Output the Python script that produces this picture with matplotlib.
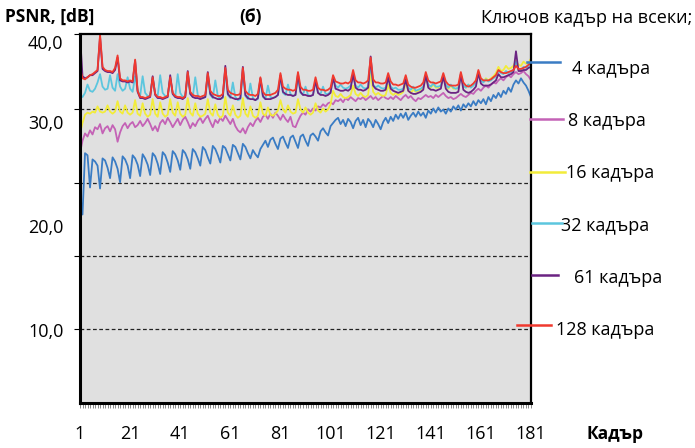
import matplotlib
matplotlib.use("Agg")
import matplotlib.pyplot as plt
from matplotlib.lines import Line2D
from matplotlib.ticker import FixedLocator, FuncFormatter
from matplotlib.transforms import offset_copy

plt.rcParams['font.family'] = ['Open Sans', 'DejaVu Sans']

# PSNR per frame (dB) for each key-frame interval
psnr_4 = [
    23.2, 21.1, 27.0, 26.8, 23.7, 26.4, 26.2, 25.8, 23.6, 26.5,
    26.3, 25.6, 24.6, 26.6, 26.2, 25.5, 24.2, 26.7, 26.4, 25.8,
    24.6, 26.8, 26.5, 25.9, 24.8, 26.9, 26.5, 25.9, 24.9, 27.0,
    26.7, 26.0, 25.0, 27.1, 26.8, 26.1, 25.2, 27.2, 26.9, 26.3,
    25.4, 27.3, 27.0, 26.4, 25.5, 27.4, 27.1, 26.5, 25.8, 27.6,
    27.3, 26.6, 26.0, 27.7, 27.4, 26.8, 26.1, 27.7, 27.5, 26.9,
    26.3, 27.8, 27.6, 27.0, 26.4, 27.9, 27.6, 27.0, 26.5, 27.3,
    26.9, 26.6, 27.4, 27.8, 28.2, 27.6, 28.3, 28.5, 27.9, 27.4,
    28.4, 28.6, 28.0, 27.5, 28.5, 28.7, 28.1, 27.5, 28.6, 28.8,
    28.2, 27.7, 28.7, 28.9, 28.6, 28.2, 29.1, 29.4, 29.0, 28.7,
    29.6, 29.9, 30.2, 30.4, 29.8, 30.2, 29.6, 30.3, 30.0, 29.4,
    30.1, 30.4, 29.7, 30.2, 29.5, 30.3, 30.0, 29.5, 30.2, 29.8,
    29.3, 30.0, 30.4, 29.9, 30.5, 30.1, 30.7, 30.3, 30.8, 30.4,
    30.9, 30.2, 30.6, 30.9, 30.5, 31.0, 30.6, 30.9, 30.4, 31.1,
    30.8, 31.3, 30.9, 31.4, 31.0, 31.2, 30.8, 31.3, 31.0, 31.5,
    31.2, 31.6, 31.1, 31.7, 31.4, 31.8, 31.5, 32.0, 31.6, 32.1,
    31.8, 32.2, 31.7, 32.4, 32.0, 32.6, 32.3, 32.8, 32.4, 33.0,
    32.7, 33.3, 32.9, 33.6, 34.0, 33.7, 34.2, 33.8, 33.5, 33.0,
    32.4,
]

psnr_8 = [
    27.0, 28.2, 28.9, 28.6, 29.2, 28.8, 29.5, 29.3, 29.8, 28.9,
    29.4, 29.6, 29.1, 29.7, 29.3, 28.1, 29.0, 29.6, 29.9, 29.4,
    29.8, 30.0, 29.5, 29.7, 30.1, 29.6, 29.9, 30.3, 29.8, 29.2,
    29.6, 29.1, 29.9, 30.2, 29.8, 30.4, 30.0, 29.5, 29.9, 30.3,
    29.7, 30.2, 30.5, 30.0, 29.4, 29.9, 29.6, 30.1, 30.4, 29.9,
    30.3, 30.6, 30.0, 29.5, 30.2, 29.9, 30.4, 30.1, 30.6, 30.2,
    29.8, 30.3, 29.6, 29.2, 29.0, 29.4, 28.9, 29.5, 29.9, 29.6,
    30.1, 30.4, 30.0, 30.5, 30.7, 30.3, 30.8, 30.4, 30.9, 30.6,
    30.2, 30.7, 30.3, 30.0, 30.5, 29.6, 29.5, 30.1, 30.6, 30.9,
    30.7, 31.2, 31.0, 31.3, 31.1, 31.5, 31.4, 31.7, 31.5, 31.8,
    31.9, 31.7, 32.1, 32.0, 32.2, 31.9, 32.3, 32.1, 32.4, 32.2,
    32.0, 32.3, 32.2, 32.4, 32.1, 32.3, 32.5, 32.2, 32.4, 32.1,
    32.3, 32.5, 32.3, 32.2, 32.4, 32.2, 32.5, 32.3, 32.1, 32.4,
    32.6, 32.3, 32.5, 32.2, 32.0, 32.3, 32.2, 32.4, 32.6, 32.4,
    32.5, 32.3, 32.6, 32.4, 32.6, 32.8, 32.5, 32.3, 32.4, 32.2,
    32.3, 32.5, 32.7, 32.5, 32.4, 32.6, 32.8, 32.7, 33.0, 33.2,
    33.0, 33.3, 33.5, 33.3, 33.6, 33.8, 33.7, 34.0, 34.2, 34.0,
    34.3, 34.5, 34.3, 34.6, 34.8, 34.6, 34.7, 34.9, 34.6, 34.4,
    34.0,
]

psnr_16 = [
    28.9, 29.9, 30.7, 30.9, 30.8, 31.0, 30.9, 31.5, 31.0, 30.9,
    31.0, 31.6, 31.0, 30.8, 31.0, 32.0, 31.0, 30.8, 31.6, 30.9,
    30.7, 30.9, 32.1, 30.8, 30.6, 31.8, 30.8, 30.5, 30.7, 32.2,
    30.8, 30.5, 31.9, 30.8, 30.5, 30.7, 32.2, 30.9, 30.6, 31.9,
    30.8, 30.5, 30.7, 32.3, 30.9, 30.6, 31.8, 30.8, 30.5, 30.6,
    30.8, 32.2, 30.9, 30.6, 31.7, 30.7, 30.4, 30.6, 32.4, 30.9,
    30.6, 31.6, 30.7, 30.4, 30.6, 32.3, 30.8, 30.5, 31.5, 30.6,
    30.4, 30.6, 31.9, 30.8, 30.6, 31.4, 30.7, 30.6, 30.8, 31.1,
    32.1, 31.2, 30.9, 31.6, 31.0, 30.8, 30.9, 32.2, 31.2, 30.9,
    31.4, 30.9, 30.7, 30.9, 31.8, 31.1, 30.9, 31.3, 31.0, 31.2,
    31.7, 33.0, 32.5, 32.4, 32.7, 32.4, 32.3, 32.4, 32.6, 33.5,
    32.7, 32.5, 32.8, 32.5, 32.4, 32.6, 34.8, 32.9, 32.6, 32.8,
    32.6, 32.5, 32.6, 33.6, 32.8, 32.6, 32.8, 32.6, 32.7, 32.9,
    33.8, 33.0, 32.8, 33.1, 32.9, 33.0, 33.1, 33.3, 34.3, 33.5,
    33.3, 33.6, 33.3, 33.3, 33.5, 34.4, 33.5, 33.2, 33.5, 33.2,
    33.2, 33.3, 34.4, 33.5, 33.3, 33.6, 33.4, 33.6, 33.9, 34.8,
    34.1, 33.9, 34.2, 34.0, 34.2, 34.4, 34.7, 35.3, 34.9, 35.0,
    35.4, 35.1, 35.2, 35.4, 35.9, 35.5, 35.4, 35.8, 35.6, 35.7,
    36.1,
]

psnr_32 = [
    32.6, 32.4, 32.8, 33.6, 33.0, 32.9, 33.2, 33.8, 34.6, 33.4,
    33.1, 33.2, 34.5, 33.3, 33.0, 34.6, 33.4, 33.0, 33.2, 34.3,
    33.2, 32.9, 34.4, 33.0, 32.5, 34.4, 32.8, 32.5, 32.5, 34.3,
    32.7, 32.5, 34.5, 32.8, 32.5, 32.5, 34.2, 32.7, 32.4, 34.6,
    32.8, 32.4, 32.5, 34.4, 32.7, 32.4, 34.3, 32.6, 32.3, 32.3,
    32.4, 34.3, 32.6, 32.3, 34.0, 32.5, 32.2, 32.3, 34.8, 32.6,
    32.3, 33.8, 32.4, 32.1, 32.2, 34.7, 32.5, 32.2, 33.7, 32.3,
    32.1, 32.2, 34.0, 32.4, 32.2, 33.5, 32.4, 32.3, 32.4, 32.6,
    34.2, 32.8, 32.6, 33.6, 32.7, 32.5, 32.6, 34.3, 32.8, 32.6,
    33.4, 32.6, 32.5, 32.6, 33.9, 32.8, 32.7, 33.4, 32.7, 32.7,
    32.9, 34.2, 33.5, 33.3, 33.6, 33.3, 33.2, 33.3, 33.5, 34.6,
    33.5, 33.3, 33.6, 33.3, 33.2, 33.4, 35.6, 33.6, 33.3, 33.5,
    33.3, 33.2, 33.3, 34.3, 33.4, 33.2, 33.3, 33.1, 33.1, 33.2,
    34.1, 33.3, 33.1, 33.4, 33.0, 33.1, 33.2, 33.4, 34.4, 33.6,
    33.4, 33.7, 33.4, 33.4, 33.5, 34.5, 33.6, 33.3, 33.6, 33.3,
    33.2, 33.3, 34.6, 33.5, 33.3, 33.6, 33.3, 33.5, 33.8, 34.8,
    34.0, 33.8, 34.1, 33.9, 34.0, 34.2, 34.4, 34.9, 34.7, 34.6,
    34.9, 34.7, 34.8, 35.0, 35.8, 35.1, 35.0, 35.3, 35.2, 35.4,
    35.6,
]

psnr_61 = [
    38.4, 34.4, 34.2, 34.3, 34.5, 34.5, 34.7, 34.9, 38.2, 35.1,
    34.9, 34.8, 34.8, 34.7, 35.0, 36.2, 34.0, 33.9, 33.9, 33.8,
    33.9, 33.8, 35.9, 32.9, 32.3, 32.3, 32.2, 32.3, 32.4, 34.4,
    32.6, 32.3, 32.3, 32.2, 32.3, 32.4, 34.5, 32.7, 32.4, 32.3,
    32.3, 32.2, 32.4, 34.9, 32.7, 32.4, 32.3, 32.3, 32.2, 32.3,
    32.4, 34.8, 32.7, 32.4, 32.3, 32.2, 32.2, 32.4, 35.4, 32.7,
    32.4, 32.3, 32.2, 32.2, 32.3, 35.3, 32.6, 32.3, 32.2, 32.2,
    32.1, 32.3, 34.2, 32.5, 32.2, 32.2, 32.2, 32.3, 32.4, 32.6,
    34.5, 32.9, 32.7, 32.6, 32.6, 32.5, 32.6, 34.6, 32.9, 32.6,
    32.6, 32.5, 32.5, 32.6, 34.0, 32.8, 32.6, 32.6, 32.5, 32.6,
    32.8, 34.3, 33.2, 33.1, 33.0, 33.0, 33.1, 33.0, 33.2, 34.6,
    33.3, 33.1, 33.1, 33.0, 33.1, 33.3, 36.3, 33.5, 33.2, 33.1,
    33.0, 33.0, 33.1, 34.3, 33.2, 33.0, 32.9, 32.8, 32.9, 33.0,
    34.1, 33.0, 32.8, 32.7, 32.7, 32.8, 32.9, 33.1, 34.5, 33.3,
    33.1, 33.1, 33.0, 33.1, 33.2, 34.4, 33.2, 32.9, 32.8, 32.8,
    32.8, 32.9, 34.6, 33.1, 32.9, 32.8, 32.9, 33.1, 33.4, 34.7,
    33.7, 33.5, 33.5, 33.5, 33.6, 33.8, 34.0, 34.6, 34.3, 34.3,
    34.4, 34.5, 34.6, 34.8, 36.8, 34.9, 34.9, 35.0, 35.0, 35.2,
    35.3,
]

psnr_128 = [
    35.2, 34.2, 34.1, 34.3, 34.5, 34.6, 34.8, 35.0, 38.4, 35.3,
    35.0, 34.9, 34.9, 34.8, 35.2, 36.4, 34.2, 34.0, 34.0, 33.9,
    34.0, 33.9, 36.0, 33.0, 32.4, 32.4, 32.3, 32.4, 32.5, 34.3,
    32.7, 32.4, 32.4, 32.3, 32.4, 32.5, 34.3, 32.8, 32.5, 32.4,
    32.4, 32.3, 32.5, 34.8, 32.9, 32.6, 32.5, 32.5, 32.4, 32.5,
    32.6, 34.7, 33.0, 32.7, 32.6, 32.5, 32.5, 32.7, 35.2, 33.1,
    32.8, 32.7, 32.6, 32.6, 32.7, 35.2, 33.0, 32.7, 32.6, 32.6,
    32.5, 32.7, 34.3, 32.9, 32.6, 32.6, 32.6, 32.7, 32.8, 33.1,
    34.7, 33.4, 33.2, 33.1, 33.1, 33.0, 33.1, 34.8, 33.4, 33.1,
    33.1, 33.0, 33.0, 33.1, 34.3, 33.3, 33.1, 33.1, 33.0, 33.1,
    33.3, 34.5, 33.9, 33.8, 33.7, 33.7, 33.8, 33.7, 33.9, 35.0,
    34.0, 33.8, 33.8, 33.7, 33.8, 34.0, 36.2, 34.1, 33.8, 33.8,
    33.7, 33.7, 33.8, 34.7, 33.9, 33.6, 33.6, 33.5, 33.6, 33.7,
    34.5, 33.6, 33.4, 33.3, 33.3, 33.4, 33.5, 33.8, 34.8, 34.0,
    33.8, 33.8, 33.7, 33.8, 33.9, 34.7, 33.9, 33.6, 33.5, 33.5,
    33.5, 33.6, 34.8, 33.8, 33.5, 33.4, 33.5, 33.7, 34.0, 35.0,
    34.2, 34.0, 34.0, 34.0, 34.1, 34.3, 34.5, 35.0, 34.8, 34.7,
    34.7, 34.8, 34.9, 35.0, 35.4, 35.1, 35.1, 35.2, 35.3, 35.5,
    35.7,
]

frames = list(range(1, len(psnr_4) + 1))
series_labels = ["4 кадъра", "8 кадъра", "16 кадъра", "32 кадъра", "61 кадъра", "128 кадъра"]
series_values = [psnr_4, psnr_8, psnr_16, psnr_32, psnr_61, psnr_128]
series_colors = ["#3a7cc4", "#c462b6", "#f2ec3a", "#5cc6de", "#6b2382", "#f0392e"]
x_tick_labels = [1, 21, 41, 61, 81, 101, 121, 141, 161, 181]
y_tick_labels = [10, 20, 30, 40]


def comma(v):
    return f"{v:.1f}".replace(".", ",")


W, H = 695, 448
fig = plt.figure(figsize=(W / 100, H / 100), dpi=100)
ax = fig.add_axes([80 / W, 1 - 403 / H, 451 / W, 369 / H])
ax.set_facecolor("#e0e0e0")

for vals, col in zip(series_values, series_colors):
    ax.plot(frames, vals, color=col, lw=1.3, solid_joinstyle="round")

ax.set_xlim(1, 181)
ax.set_ylim(2.98, 38.46)

# dashed horizontal grid lines
grid_vals = [10.1, 17.1, 24.15, 31.25]
for g in grid_vals:
    ax.axhline(g, color="#222222", lw=0.9, ls=(0, (3, 2)), zorder=0.5)

for s in ax.spines.values():
    s.set_color("black")
    s.set_linewidth(1.6)
ax.spines["left"].set_linewidth(2.2)
ax.spines["bottom"].set_linewidth(2.2)

# x axis: a tick for every frame, labels every 20
ax.xaxis.set_major_locator(FixedLocator(x_tick_labels))
ax.xaxis.set_minor_locator(FixedLocator(frames))
ax.tick_params(axis="x", which="major", length=3.6, width=0.6, color="#777777",
               pad=12.5, labelsize=13)
ax.tick_params(axis="x", which="minor", length=3.6, width=0.6, color="#777777")

# y axis labels
ax.yaxis.set_major_locator(FixedLocator(y_tick_labels[:3]))
ax.yaxis.set_major_formatter(FuncFormatter(lambda v, p: comma(v)))
ax.yaxis.set_minor_locator(FixedLocator(grid_vals + [38.46]))
ax.tick_params(axis="y", which="major", length=0, pad=12, labelsize=13)
ax.tick_params(axis="y", which="minor", length=4, width=0.8, color="black")
ax.text(0, 37.5, comma(y_tick_labels[3]),
        transform=offset_copy(ax.get_yaxis_transform(), fig=fig, x=-12, y=0, units="points"),
        ha="right", va="center", fontsize=13)


def fpx(x, y):
    return x / W, 1 - y / H


# legend entries at the right of the plot
legend_pos = [
    ((527, 560, 62), (572, 69)),
    ((530, 563, 119), (568, 121)),
    ((530, 565, 172), (566, 173)),
    ((532, 562, 223), (561, 226)),
    ((532, 558, 275), (574, 278)),
    ((517, 551, 325), (556, 330)),
]
for ((x0, x1, yl), (xt, yt)), col, lab in zip(legend_pos, series_colors, series_labels):
    fig.add_artist(Line2D([x0 / W, x1 / W], [1 - yl / H, 1 - yl / H],
                          transform=fig.transFigure, color=col, lw=1.8))
    fig.text(*fpx(xt, yt), lab, ha="left", va="center", fontsize=13)

fig.text(*fpx(5, 17), "PSNR, [dB]", ha="left", va="center", fontsize=12.5, fontweight="bold")
fig.text(*fpx(251, 17), "(б)", ha="center", va="center", fontsize=12.5, fontweight="bold")
fig.text(*fpx(587, 18), "Ключов кадър на всеки;", ha="center", va="center", fontsize=13)
fig.text(*fpx(615, 434), "Кадър", ha="center", va="center", fontsize=12.5, fontweight="bold")

fig.savefig("out.png", dpi=100)
